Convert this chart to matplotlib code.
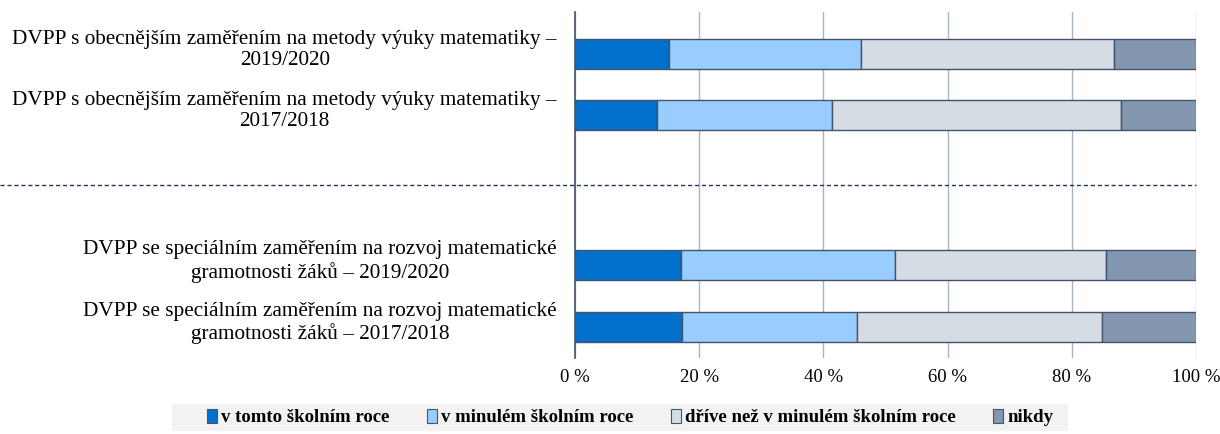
import matplotlib
matplotlib.use("Agg")
import matplotlib.pyplot as plt
import matplotlib.transforms as mtransforms
from matplotlib.patches import Rectangle
import numpy as np

plt.rcParams['font.family'] = ['Liberation Serif', 'DejaVu Serif']

categories = [
    "DVPP s obecnějším zaměřením na metody výuky matematiky –\n2019/2020",
    "DVPP s obecnějším zaměřením na metody výuky matematiky –\n2017/2018",
    "DVPP se speciálním zaměřením na rozvoj matematické\ngramotnosti žáků – 2019/2020",
    "DVPP se speciálním zaměřením na rozvoj matematické\ngramotnosti žáků – 2017/2018",
]
series_names = ["v tomto školním roce", "v minulém školním roce",
                "dříve než v minulém školním roce", "nikdy"]
tento_rok = [15.2, 13.2, 17.1, 17.2]
minuly_rok = [30.8, 28.2, 34.5, 28.2]
drive = [40.8, 46.5, 33.9, 39.5]
nikdy = [13.2, 12.1, 14.5, 15.1]
ticks = [0, 20, 40, 60, 80, 100]

colors = ["#0070CC", "#99CCFF", "#D6DCE4", "#8497B0"]
edge = "#44546A"

# bar rows (in units of row spacing), separator between the two groups
ypos = [0.69, 1.69, 4.15, 5.16]
sep_y = 2.84

fig = plt.figure(figsize=(12.2, 4.34), dpi=100)
ax = fig.add_axes([575 / 1220, 1 - 358 / 434, 621 / 1220, 346 / 434])

left = np.zeros(len(categories))
for name, vals, c in zip(series_names, [tento_rok, minuly_rok, drive, nikdy], colors):
    ax.barh(ypos, vals, left=left, height=0.49, color=c, edgecolor=edge,
            linewidth=1.0, label=name, zorder=3)
    left += np.array(vals)

ax.set_xlim(0, 100)
ax.set_ylim(5.67, 0)
ax.set_xticks(ticks)
ax.set_xticklabels([f"{t} %" for t in ticks], fontsize=13.5)
ax.set_yticks(ypos)
ax.set_yticklabels(categories, fontsize=15.3, multialignment="center",
                   linespacing=1.15)
ax.tick_params(axis="both", length=0)
ax.tick_params(axis="y", pad=13)
ax.tick_params(axis="x", pad=8)

# labels sit a bit above the bar centre, like in the original
shift = mtransforms.ScaledTranslation(0, 7.5 / 100, fig.dpi_scale_trans)
for lbl in ax.get_yticklabels():
    lbl.set_transform(lbl.get_transform() + shift)

ax.grid(axis="x", color="#A6B4C8", linewidth=1.0, zorder=0)
for s in ["top", "right", "bottom"]:
    ax.spines[s].set_visible(False)
ax.spines["left"].set_color(edge)
ax.spines["left"].set_linewidth(1.2)

ax.axhline(sep_y, xmin=-575 / 621, xmax=1.0, clip_on=False, color="#1F3864",
           linestyle=(0, (3, 2)), linewidth=1.0, zorder=4)

# grey band behind the legend
fig.add_artist(Rectangle((172 / 1220, 1 - 431 / 434), 896 / 1220, 27 / 434,
                         transform=fig.transFigure, facecolor="#F2F2F2",
                         edgecolor="none", zorder=0))

leg = fig.legend(loc="center", bbox_to_anchor=(630 / 1220, 1 - 417.5 / 434), ncol=4,
                 frameon=False, handlelength=0.55, handleheight=0.8,
                 handletextpad=0.2, columnspacing=2.0, borderpad=0.3,
                 prop={"weight": "bold", "size": 13.5})
for h in leg.legend_handles:
    h.set_edgecolor(edge)
    h.set_linewidth(0.8)

fig.savefig("out.png", dpi=100)
